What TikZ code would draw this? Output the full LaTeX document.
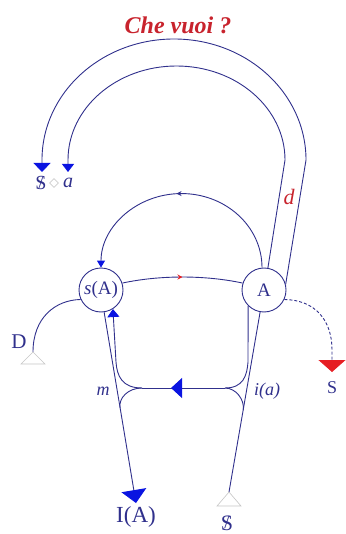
\documentclass[tikz,border=0pt]{standalone}
\usepackage{fontspec}
\setmainfont{Liberation Serif}
\usetikzlibrary{arrows.meta,decorations.markings,shapes.geometric}

\definecolor{graphblue}{RGB}{48,48,140}
\definecolor{tipblue}{RGB}{10,20,225}
\definecolor{cheRed}{RGB}{200,35,45}
\definecolor{tipRed}{RGB}{230,30,35}

% barred subject
\newcommand{\barS}{\ooalign{S\cr\hidewidth\raisebox{.15ex}{\scalebox{.85}{/}}\hidewidth\cr}}

\begin{document}
\begin{tikzpicture}[
  x=1pt, y=-1pt,
  line width=0.9pt,
  vec/.style={graphblue},
  locus/.style={draw=graphblue,circle,minimum size=44pt,inner sep=0pt,
    text=graphblue,font=\fontsize{19}{22}\selectfont},
  lbl/.style={text=graphblue,inner sep=0pt},
  opentri/.style={draw=gray!45,fill=white,line width=0.6pt},
  midtip/.style 2 args={postaction={decorate},
    decoration={markings,mark=at position #1 with {\arrow{#2}}}}
]
  \useasboundingbox (0,0) rectangle (345,534);

  % Title over the upper loop
  \node[font=\fontsize{24}{28}\selectfont\bfseries\itshape,text=cheRed,inner sep=0pt]
    (title) at (178,25) {Che vuoi ?};

  % The two loci
  \node[locus] (sA) at (101,290) {\textit{s}(A)};
  \node[locus] (A) at (264,290) {A};

  % Free ends and junctions
  \coordinate (outEnd) at (42,172);
  \coordinate (inEnd) at (68,172);
  \coordinate (Dtip) at (33,352);
  \coordinate (Send) at (332,372);
  \coordinate (IAend) at (136,503);
  \coordinate (bSend) at (229,492);
  \coordinate (mL) at (142,388);
  \coordinate (mR) at (225,388);
  \coordinate (jL) at (120,408);
  \coordinate (jR) at (243.2,410);

  % Upper loop: d up to S<>a
  \draw[vec,-{Triangle[width=17pt,length=9pt,color=tipblue,fill=tipblue]}]
    (A.15) -- (306,160)
    arc[start angle=0,end angle=180,x radius=132pt,y radius=121pt] -- (outEnd);
  \draw[vec,-{Triangle[width=12pt,length=8pt,color=tipblue,fill=tipblue]}]
    (A.80) -- (285,160)
    arc[start angle=0,end angle=180,x radius=108.5pt,y radius=94pt] -- (inEnd);
  \node[lbl,font=\fontsize{20}{22}\selectfont] (SaS) at (41,183) {\barS};
  \node[draw=gray!40,diamond,minimum size=9pt,inner sep=0pt,line width=0.6pt]
    (punch) at (54,183) {};
  \node[lbl,font=\fontsize{20}{22}\selectfont\itshape] (Saa) at (68,183) {a};
  \node[text=cheRed,font=\fontsize{22}{24}\selectfont\itshape,inner sep=0pt]
    (dLab) at (289,197) {d};

  % A back to s(A) over the top
  \draw[vec,{Triangle[width=8pt,length=7pt,color=tipblue,fill=tipblue]}-,
    midtip={.5}{Stealth[reversed,length=5pt,width=5pt,color=graphblue]}]
    (sA.north) arc[start angle=180,end angle=0,x radius=80.5pt,y radius=74pt];

  % s(A) to A
  \draw[vec,midtip={.5}{Stealth[length=5pt,width=5pt,color=tipRed]}]
    (sA.18) .. controls (160,275) and (205,275) .. (A.162);

  % D branch
  \draw[vec] (sA.205) .. controls (55,300) and (33,318) .. (Dtip);
  \draw[opentri] (Dtip) -- ++(-12,12) -- ++(24,0) -- cycle;
  \node[lbl,font=\fontsize{21}{24}\selectfont] (DLab) at (19,342) {D};

  % dashed branch to S
  \draw[vec,dash pattern=on 3pt off 2pt,
    -{Triangle[width=27pt,length=12pt,color=tipRed,fill=tipRed]}]
    (A.-25) .. controls (315,300) and (332,320) .. (332,350) -- (Send);
  \node[lbl,font=\fontsize{18}{20}\selectfont] (SLab) at (332,388) {S};

  % left: s(A) down to I(A), m up to s(A)
  \draw[vec,-{Triangle[width=25pt,length=13pt,color=tipblue,fill=tipblue]}]
    (sA.-82) -- (IAend);
  \draw[vec,-{Triangle[width=12pt,length=8pt,color=tipblue,fill=tipblue]}]
    (mL) .. controls (122,388) and (117,376) .. (116,362) -- (sA.-58);
  \draw[vec] (mL) .. controls (128,388) and (118.5,398) .. (jL);
  \node[lbl,font=\fontsize{18}{20}\selectfont\itshape] (mLab) at (103,391) {m};
  \node[lbl,font=\fontsize{23}{26}\selectfont] (IALab) at (136,517) {I(A)};

  % right: barred S up to A, A down to i(a)
  \draw[vec] (bSend) -- (A.-100);
  \draw[opentri] (bSend) -- ++(-12,14) -- ++(24,0) -- cycle;
  \draw[vec] (A.-135) -- (248,362) .. controls (247,376) and (243,388) .. (mR);
  \draw[vec] (mR) .. controls (236,388) and (244.9,400) .. (jR);
  \node[lbl,font=\fontsize{18}{20}\selectfont\itshape] (iaLab) at (267,391) {i(a)};
  \node[lbl,font=\fontsize{22}{24}\selectfont,anchor=base] (bSLab) at (227,530) {\barS};

  % i(a) to m
  \draw[vec,midtip={.65}{Triangle[length=11pt,width=20pt,color=tipblue,fill=tipblue]}]
    (mR) -- (mL);
\end{tikzpicture}
\end{document}
